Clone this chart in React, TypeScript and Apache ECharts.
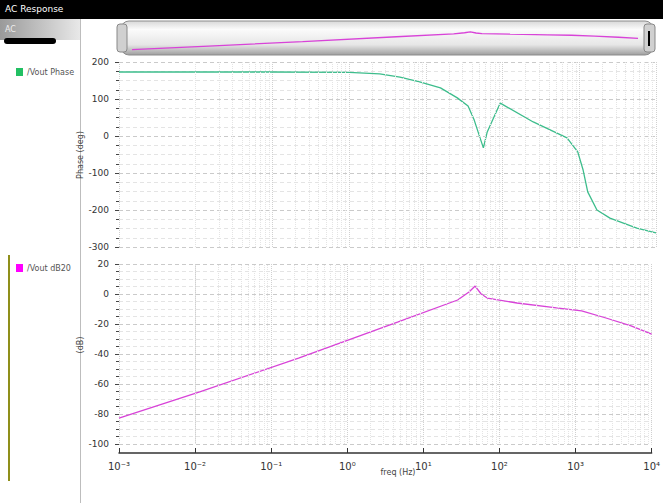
import React, { useEffect, useRef } from "react";
import * as echarts from "echarts";

// Frequencies (Hz) for the phase curve and phase values (deg)
const phaseFreq = [0.001, 0.01, 0.1, 1.0, 2.5, 4.6, 8.3, 15.5, 25.7, 35.5, 42.7, 49, 56.2, 63.1, 93.3, 251, 692, 955, 1122, 1288, 1698, 2512, 5623, 10000];
const phaseVals = [173, 173, 173, 172, 168, 159, 146, 130, 103, 81, 43, 5, -32, 11, 89, 38, -5, -43, -92, -151, -200, -222, -249, -262];

// Frequencies (Hz) for the magnitude curve and magnitude values (dB)
const magFreq = [0.001, 0.0115, 0.229, 4.57, 28.2, 39.8, 47.9, 57.5, 69.2, 170, 562, 1202, 2512, 5370, 10000];
const magVals = [-82.7, -65.3, -42.7, -18.7, -4, 1.3, 5.3, 0, -2.7, -6, -9.3, -11.3, -16, -21.3, -26.7];

// Tick values
const phaseTicks = { min: -300, max: 200, step: 100 };
const magTicks = { min: -100, max: 20, step: 20 };
const freqRange = { min: 0.001, max: 10000 };

const GREEN = "#3dbd8c";
const PINK = "#d843d8";

const minorFreqs: number[] = [];
for (let e = -3; e < 4; e++) {
  for (let k = 2; k <= 9; k++) minorFreqs.push(k * Math.pow(10, e));
}

const supMap: Record<string, string> = { "-": "⁻", "0": "⁰", "1": "¹", "2": "²", "3": "³", "4": "⁴", "5": "⁵", "6": "⁶", "7": "⁷", "8": "⁸", "9": "⁹" };

export default function App() {
  const ref = useRef<HTMLDivElement>(null);
  useEffect(() => {
    document.body.style.margin = "0";
    if (!ref.current) return;
    const chart = echarts.init(ref.current, null, { renderer: "svg" });
    const toPairs = (xs: number[], ys: number[]) => xs.map((x, i) => [x, ys[i]]);
    const minorLines = {
      silent: true,
      symbol: ["none", "none"],
      label: { show: false },
      lineStyle: { color: "#e4e4e4", type: "dotted", width: 1 },
      data: minorFreqs.map((f) => ({ xAxis: f })),
    };
    const xBase = (gridIndex: number, showLabels: boolean) => ({
      type: "log",
      logBase: 10,
      gridIndex,
      min: freqRange.min,
      max: freqRange.max,
      axisLine: { show: showLabels, onZero: false, lineStyle: { color: "#333", width: 1.5 } },
      axisTick: { show: showLabels, inside: true, length: 5, lineStyle: { color: "#333" } },
      axisLabel: {
        show: showLabels,
        margin: 8,
        color: "#333",
        fontSize: 10,
        fontFamily: "DejaVu Sans",
        formatter: (v: number) => {
          const e = String(Math.round(Math.log10(v)));
          return "10" + e.split("").map((c) => supMap[c] || c).join("");
        },
      },
      splitLine: { show: true, lineStyle: { color: "#d0d0d0", type: "dotted" } },
      offset: showLabels ? 9 : 0,
    });
    const yBase = (gridIndex: number, t: { min: number; max: number; step: number }) => ({
      type: "value",
      gridIndex,
      min: t.min,
      max: t.max,
      interval: t.step,
      axisLine: { show: false },
      axisTick: { show: true, length: 4, lineStyle: { color: "#444" } },
      minorTick: { show: true, splitNumber: 4, length: 3, lineStyle: { color: "#444" } },
      axisLabel: { color: "#333", fontSize: 9, fontFamily: "DejaVu Sans", margin: 10 },
      splitLine: { show: true, lineStyle: { color: "#cacaca", type: [4, 3] } },
      minorSplitLine: { show: true, lineStyle: { color: "#e4e4e4", type: [4, 3] } },
    });

    chart.setOption({
      animation: false,
      backgroundColor: "#ffffff",
      grid: [
        { left: 119, width: 537, top: 62, height: 185 },
        { left: 119, width: 537, top: 264, height: 180 },
        { left: 132, width: 506, top: 30, height: 22 },
      ],
      xAxis: [
        xBase(0, false),
        xBase(1, true),
        { type: "log", gridIndex: 2, min: freqRange.min, max: freqRange.max, show: false },
      ],
      yAxis: [
        yBase(0, phaseTicks),
        yBase(1, magTicks),
        { type: "value", gridIndex: 2, min: -95, max: 15, show: false },
      ],
      series: [
        {
          type: "line",
          xAxisIndex: 0,
          yAxisIndex: 0,
          data: toPairs(phaseFreq, phaseVals),
          showSymbol: false,
          lineStyle: { color: GREEN, width: 1.3 },
          markLine: minorLines,
          z: 3,
        },
        {
          type: "line",
          xAxisIndex: 1,
          yAxisIndex: 1,
          data: toPairs(magFreq, magVals),
          showSymbol: false,
          lineStyle: { color: PINK, width: 1.3 },
          markLine: minorLines,
          z: 3,
        },
        {
          type: "line",
          xAxisIndex: 2,
          yAxisIndex: 2,
          data: toPairs(magFreq, magVals),
          showSymbol: false,
          lineStyle: { color: PINK, width: 1.3 },
          z: 5,
        },
      ],
      graphic: [
        // title bar
        { type: "rect", shape: { x: 0, y: 0, width: 663, height: 19 }, style: { fill: "#000" } },
        { type: "text", x: 5, y: 4, style: { text: "AC Response", fill: "#fff", font: "9px 'DejaVu Sans'" } },
        // left panel
        { type: "rect", shape: { x: 80, y: 19, width: 1, height: 484 }, style: { fill: "#bdbdbd" } },
        {
          type: "rect",
          shape: { x: 0, y: 19, width: 80, height: 21 },
          style: {
            fill: new echarts.graphic.LinearGradient(0, 0, 1, 0, [
              { offset: 0, color: "#9a9a9a" },
              { offset: 1, color: "#e8e8e8" },
            ]),
          },
        },
        { type: "text", x: 5, y: 25, style: { text: "AC", fill: "#eee", font: "8px 'DejaVu Sans'" } },
        { type: "rect", shape: { x: 4, y: 38, width: 52, height: 6, r: 3 }, style: { fill: "#000" } },
        { type: "rect", shape: { x: 16, y: 68, width: 7, height: 8 }, style: { fill: "#22c063" } },
        { type: "text", x: 27, y: 68, style: { text: "/Vout Phase", fill: "#555", font: "8px 'DejaVu Sans'" } },
        { type: "rect", shape: { x: 16, y: 264, width: 7, height: 8 }, style: { fill: "#ff00ff" } },
        { type: "text", x: 27, y: 264, style: { text: "/Vout dB20", fill: "#555", font: "8px 'DejaVu Sans'" } },
        { type: "rect", shape: { x: 8, y: 255, width: 2, height: 226 }, style: { fill: "#8f8f1a" } },
        // slider overview
        {
          type: "rect",
          shape: { x: 121, y: 21, width: 532, height: 34, r: 8 },
          style: {
            fill: new echarts.graphic.LinearGradient(0, 0, 0, 1, [
              { offset: 0, color: "#d8d8d8" },
              { offset: 0.25, color: "#fbfbfb" },
              { offset: 0.7, color: "#e6e6e6" },
              { offset: 1, color: "#9e9e9e" },
            ]),
            stroke: "#8c8c8c",
            lineWidth: 1,
          },
        },
        {
          type: "rect",
          shape: { x: 117, y: 24, width: 10, height: 28, r: 3 },
          style: { fill: "#d0d0d0", stroke: "#888", lineWidth: 1 },
        },
        {
          type: "rect",
          shape: { x: 644, y: 24, width: 11, height: 28, r: 3 },
          style: { fill: "#d0d0d0", stroke: "#888", lineWidth: 1 },
        },
        { type: "rect", shape: { x: 648, y: 31, width: 2, height: 15 }, style: { fill: "#000" } },
        // axis titles
        {
          type: "text",
          x: 84,
          y: 155,
          rotation: Math.PI / 2,
          style: { text: "Phase (deg)", fill: "#444", font: "8px 'DejaVu Sans'", align: "center", verticalAlign: "bottom" },
        },
        {
          type: "text",
          x: 84,
          y: 345,
          rotation: Math.PI / 2,
          style: { text: "(dB)", fill: "#444", font: "8px 'DejaVu Sans'", align: "center", verticalAlign: "bottom" },
        },
        {
          type: "text",
          x: 398,
          y: 468,
          style: { text: "freq (Hz)", fill: "#444", font: "8px 'DejaVu Sans'", align: "center" },
        },
      ],
    });
    return () => chart.dispose();
  }, []);
  return <div ref={ref} style={{ width: 663, height: 503 }} />;
}
